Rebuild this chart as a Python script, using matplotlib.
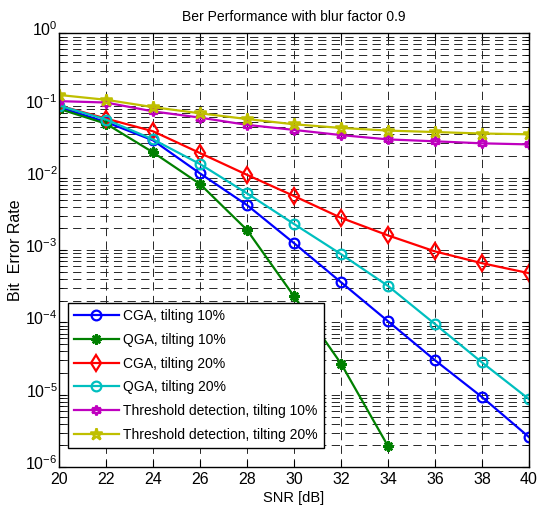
import matplotlib
matplotlib.use("Agg")
import matplotlib.pyplot as plt
import matplotlib.transforms as mtransforms
from matplotlib.ticker import LogLocator, NullFormatter, MultipleLocator

plt.rcParams['font.family'] = ['Liberation Sans', 'DejaVu Sans']

snr = [20, 22, 24, 26, 28, 30, 32, 34, 36, 38, 40]
cga_10 = [0.095, 0.059, 0.033, 0.0115, 0.0042, 0.00125, 3.6e-4, 1.04e-4, 3.0e-5, 9.3e-6, 2.6e-6]
qga_10 = [0.09, 0.056, 0.0225, 0.0082, 0.0019, 2.3e-4, 2.7e-5, 1.95e-6]
cga_20 = [0.1, 0.066, 0.044, 0.022, 0.011, 0.0056, 0.0028, 0.0016, 0.00096, 6.6e-4, 4.8e-4]
qga_20 = [0.1, 0.064, 0.034, 0.0155, 0.0061, 0.0023, 8.8e-4, 3.2e-4, 9.5e-5, 2.8e-5, 8.7e-6]
thr_10 = [0.115, 0.11, 0.083, 0.068, 0.054, 0.046, 0.039, 0.034, 0.032, 0.030, 0.029]
thr_20 = [0.14, 0.12, 0.095, 0.078, 0.065, 0.055, 0.049, 0.045, 0.043, 0.041, 0.040]

fig = plt.figure(figsize=(5.37, 5.11), dpi=100)
ax = fig.add_axes([0.11, 0.086, 0.875, 0.849])

lw = 1.6
ax.semilogy(snr, cga_10, color='#0000ff', lw=lw, marker='o', ms=7, mfc='none', mew=1.6,
            label='CGA, tilting 10%')
ax.semilogy(snr[:len(qga_10)], qga_10, color='#008000', lw=lw, marker=(8, 2, 0), ms=7.5, mew=1.8,
            label='QGA, tilting 10%')
ax.semilogy(snr, cga_20, color='#ff0000', lw=lw, marker='d', ms=8, mfc='none', mew=1.6,
            label='CGA, tilting 20%')
ax.semilogy(snr, qga_20, color='#00bfbf', lw=lw, marker='o', ms=7, mfc='none', mew=1.6,
            label='QGA, tilting 20%')
ax.semilogy(snr, thr_10, color='#bf00bf', lw=lw, marker=(6, 1, 0), ms=7, mfc='none', mew=1.8,
            label='Threshold detection, tilting 10%')
ax.semilogy(snr, thr_20, color='#bfbf00', lw=lw, marker='*', ms=9, mfc='none', mew=1.8,
            label='Threshold detection, tilting 20%')

ax.set_xlim(20, 40)
ax.set_ylim(1e-6, 1)
ax.xaxis.set_major_locator(MultipleLocator(2))
ax.yaxis.set_major_locator(LogLocator(base=10, numticks=10))
ax.yaxis.set_minor_locator(LogLocator(base=10, subs=range(2, 10), numticks=20))
ax.yaxis.set_minor_formatter(NullFormatter())

grid_style = dict(color='0.15', linestyle=(0, (8.5, 5.5)), linewidth=0.7)
ax.grid(True, which='major', axis='both', **grid_style)
ax.grid(True, which='minor', axis='y', **grid_style)
ax.set_axisbelow(True)

ax.tick_params(which='both', direction='in', top=True, right=True, labelsize=11.5)
ax.tick_params(which='major', length=5)
ax.tick_params(which='minor', length=3)
ax.tick_params(axis='y', which='major', pad=1)
for s in ax.spines.values():
    s.set_linewidth(1.0)

# MATLAB puts the base "10" on the tick, superscript above it
shift = mtransforms.ScaledTranslation(0, 3.5 / 72, fig.dpi_scale_trans)
for lab in ax.get_yticklabels():
    lab.set_transform(lab.get_transform() + shift)

ax.set_title('Ber Performance with blur factor 0.9', fontsize=10, pad=9)
ax.set_xlabel('SNR [dB]', fontsize=10.5, labelpad=3)
ax.set_ylabel('Bit  Error Rate', fontsize=11.5, labelpad=2)

leg = ax.legend(loc='lower left', bbox_to_anchor=(0.004, 0.028), fontsize=10,
                handlelength=3.2, handletextpad=0.35, labelspacing=0.7, borderpad=0.45,
                fancybox=False, framealpha=1, edgecolor='black')
leg.get_frame().set_linewidth(1.0)

fig.savefig('out.png', dpi=100)
